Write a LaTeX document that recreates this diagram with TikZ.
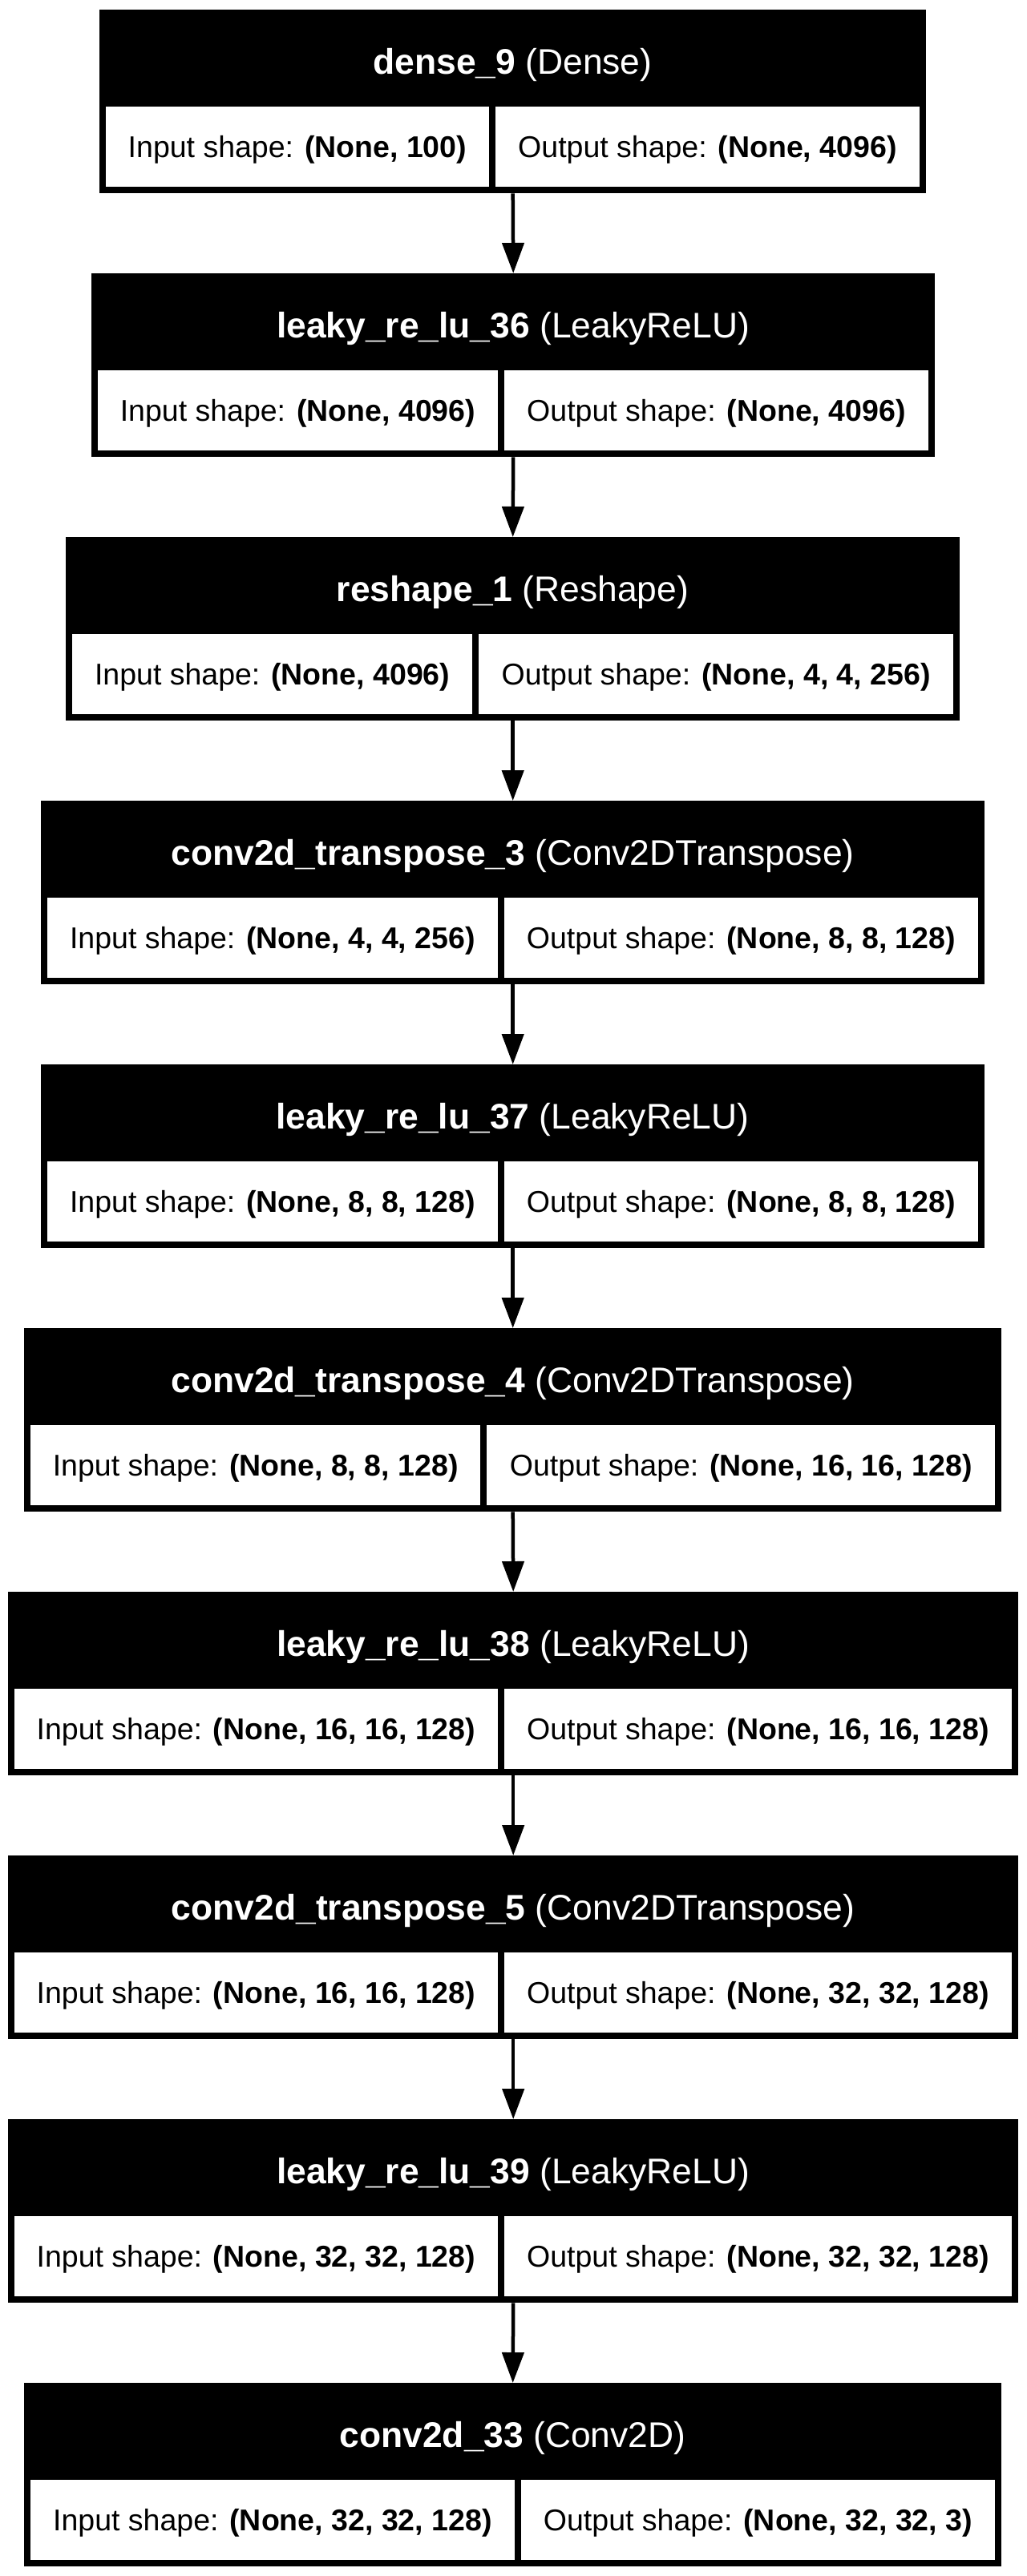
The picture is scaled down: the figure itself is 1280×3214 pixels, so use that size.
\documentclass[tikz,border=0pt]{standalone}
\usepackage{fontspec}
\setmainfont{Liberation Sans}
\usetikzlibrary{arrows.meta}

% one layer: name, top, left, divider, right, layer name, layer type, input, output
\newcommand{\layerbox}[9]{%
  \node[outerbox, minimum width={(#5-#3)*1pt}, anchor=north west] (#1) at (#3,#2) {};
  \node[headtext] (#1-title) at ({(#3+#5)/2},#2+65) {\textbf{#6} (#7)};
  \node[cellbox, minimum width={(#4-#3-12)*1pt}, anchor=north west] (#1-in) at (#3+8,#2+121) {Input shape: \textbf{#8}};
  \node[cellbox, minimum width={(#5-#4-12)*1pt}, anchor=north west] (#1-out) at (#4+4,#2+121) {Output shape: \textbf{#9}};
}

\begin{document}
\begin{tikzpicture}[x=1pt,y=-1pt,>={Triangle[width=27pt,length=38pt]}]

\tikzstyle{outerbox}=[fill=black,inner sep=0pt,minimum height=229pt]
\tikzstyle{headtext}=[text=white,inner sep=0pt,font=\fontsize{44.4}{53}\selectfont,text height=31.8pt,text depth=0pt]
\tikzstyle{cellbox}=[fill=white,inner sep=0pt,minimum height=100pt,font=\fontsize{37.5}{45}\selectfont,text height=26.85pt,text depth=0pt]
\tikzstyle{flow}=[->,line width=4.5pt]

    \useasboundingbox (0,0) rectangle (1280,3214);

    \layerbox{dense9}{12}{124}{613.5}{1155}{dense\_9}{Dense}{(None, 100)}{(None, 4096)}
    \layerbox{lrelu36}{341}{114}{624.5}{1166}{leaky\_re\_lu\_36}{LeakyReLU}{(None, 4096)}{(None, 4096)}
    \layerbox{reshape1}{670}{82}{593}{1197}{reshape\_1}{Reshape}{(None, 4096)}{(None, 4, 4, 256)}
    \layerbox{convt3}{999}{51}{624.5}{1228}{conv2d\_transpose\_3}{Conv2DTranspose}{(None, 4, 4, 256)}{(None, 8, 8, 128)}
    \layerbox{lrelu37}{1328}{51}{624.5}{1228}{leaky\_re\_lu\_37}{LeakyReLU}{(None, 8, 8, 128)}{(None, 8, 8, 128)}
    \layerbox{convt4}{1657}{30}{603}{1249}{conv2d\_transpose\_4}{Conv2DTranspose}{(None, 8, 8, 128)}{(None, 16, 16, 128)}
    \layerbox{lrelu38}{1986}{10}{624.5}{1270}{leaky\_re\_lu\_38}{LeakyReLU}{(None, 16, 16, 128)}{(None, 16, 16, 128)}
    \layerbox{convt5}{2315}{10}{624.5}{1270}{conv2d\_transpose\_5}{Conv2DTranspose}{(None, 16, 16, 128)}{(None, 32, 32, 128)}
    \layerbox{lrelu39}{2644}{10}{624.5}{1270}{leaky\_re\_lu\_39}{LeakyReLU}{(None, 32, 32, 128)}{(None, 32, 32, 128)}
    \layerbox{conv33}{2973}{30}{645.5}{1249}{conv2d\_33}{Conv2D}{(None, 32, 32, 128)}{(None, 32, 32, 3)}

    \foreach \a/\b in {dense9/lrelu36, lrelu36/reshape1, reshape1/convt3, convt3/lrelu37,
        lrelu37/convt4, convt4/lrelu38, lrelu38/convt5, convt5/lrelu39, lrelu39/conv33}
        \draw[flow] (\a.south) -- (\b.north);

\end{tikzpicture}
\end{document}
